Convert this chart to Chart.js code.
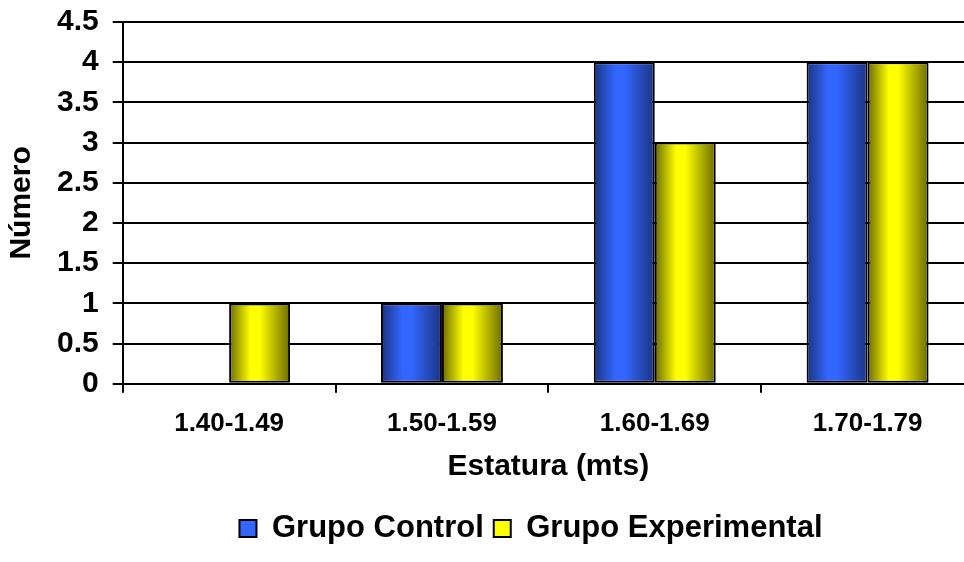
<!DOCTYPE html>
<html lang="es">

<head>
    <meta charset="UTF-8">
    <title>Estatura por grupo</title>
    <script src="https://cdn.jsdelivr.net/npm/chart.js"></script>
    <style>
        body {
            margin: 0;
            overflow: hidden;
            background: #fff;
        }

        .grafico {
            position: relative;
            width: 980px;
            height: 562px;
        }
    </style>
</head>

<body>
    <div class="grafico">
        <canvas id="graficoEstatura"></canvas>
    </div>
</body>

<script>
    // datos
    const categorias = ['1.40-1.49', '1.50-1.59', '1.60-1.69', '1.70-1.79'];
    const grupoControl = [0, 1, 4, 4];
    const grupoExperimental = [1, 1, 3, 4];
    const etiquetasY = ['0', '0.5', '1', '1.5', '2', '2.5', '3', '3.5', '4', '4.5'];

    const anchoCategoria = 0.573;
    const fuente = 'Liberation Sans, Arial, sans-serif';
    const coloresLeyenda = ['#3366ff', '#ffff00'];

    // relleno con degradado horizontal en cada barra (bordes oscuros, centro claro)
    function relleno(claro, oscuro) {
        return function (ctx) {
            const chart = ctx.chart;
            const x = chart.scales.x;
            if (ctx.type !== 'data' || !x || !chart.chartArea) return claro;
            const cat = x.width / categorias.length;
            const barra = cat * anchoCategoria / 2;
            const izq = x.getPixelForValue(ctx.dataIndex) - barra + ctx.datasetIndex * barra;
            const g = chart.ctx.createLinearGradient(izq, 0, izq + barra, 0);
            g.addColorStop(0, oscuro);
            g.addColorStop(0.35, claro);
            g.addColorStop(0.5, claro);
            g.addColorStop(1, oscuro);
            return g;
        };
    }

    // mueve la leyenda hacia la derecha
    const centrarLeyenda = {
        id: 'centrarLeyenda',
        afterLayout(chart) {
            const lg = chart.legend;
            const dx = 531 - (lg.left + lg.right) / 2;
            lg.left += dx;
            lg.right += dx;
        }
    };

    const dados = {
        labels: categorias,
        datasets: [{
            label: 'Grupo Control',
            data: grupoControl,
            backgroundColor: relleno('#3366ff', '#1a3380'),
            borderColor: '#000',
            borderWidth: 2,
            borderSkipped: false
        }, {
            label: 'Grupo Experimental',
            data: grupoExperimental,
            backgroundColor: relleno('#ffff00', '#6b6b00'),
            borderColor: '#000',
            borderWidth: 2,
            borderSkipped: false
        }]
    };

    const config = {
        type: 'bar',
        data: dados,
        plugins: [centrarLeyenda],
        options: {
            responsive: true,
            maintainAspectRatio: false,
            animation: false,
            datasets: {
                bar: {
                    barPercentage: 1,
                    categoryPercentage: anchoCategoria
                }
            },
            layout: {
                padding: { top: 22, right: 6, left: 0, bottom: 8 }
            },
            plugins: {
                tooltip: { enabled: false },
                legend: {
                    position: 'bottom',
                    labels: {
                        color: '#000',
                        boxWidth: 17,
                        boxHeight: 17,
                        padding: 10,
                        font: { family: fuente, size: 31, weight: 'bold' },
                        generateLabels: function (chart) {
                            const items = Chart.defaults.plugins.legend.labels.generateLabels(chart);
                            items.forEach(function (it, i) {
                                it.fillStyle = coloresLeyenda[i];
                                it.strokeStyle = '#000';
                                it.lineWidth = 2;
                            });
                            return items;
                        }
                    }
                }
            },
            scales: {
                x: {
                    grid: {
                        display: true,
                        drawOnChartArea: false,
                        offset: true,
                        color: '#000',
                        lineWidth: 2,
                        tickLength: 9
                    },
                    border: { color: '#000', width: 2 },
                    ticks: {
                        color: '#000',
                        padding: 15,
                        maxRotation: 0,
                        font: { family: fuente, size: 26, weight: 'bold' }
                    },
                    title: {
                        display: true,
                        text: 'Estatura (mts)',
                        color: '#000',
                        padding: { top: -5, bottom: 18 },
                        font: { family: fuente, size: 30, weight: 'bold' }
                    }
                },
                y: {
                    min: 0,
                    max: 4.5,
                    // sin margen extra arriba por la etiqueta 4.5
                    afterFit: function (s) {
                        s.paddingTop = 0;
                    },
                    grid: {
                        color: '#000',
                        lineWidth: 2,
                        tickLength: 10
                    },
                    border: { color: '#000', width: 2 },
                    ticks: {
                        stepSize: 0.5,
                        autoSkip: false,
                        color: '#000',
                        padding: 14,
                        font: { family: fuente, size: 30, weight: 'bold' },
                        callback: function (v, i) {
                            return etiquetasY[i];
                        }
                    },
                    title: {
                        display: true,
                        text: 'Número',
                        color: '#000',
                        padding: { top: 4, bottom: 3 },
                        font: { family: fuente, size: 30, weight: 'bold' }
                    }
                }
            }
        }
    };

    let graficoEstatura = new Chart(
        document.getElementById('graficoEstatura'),
        config
    );
</script>

</html>
